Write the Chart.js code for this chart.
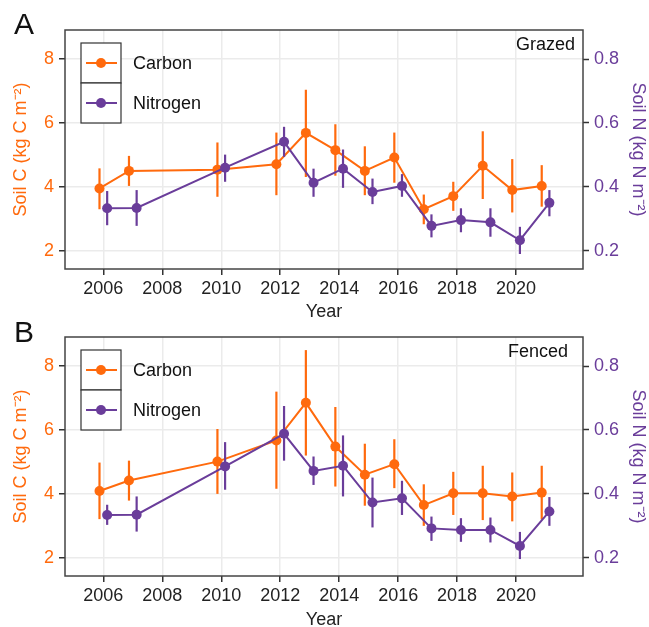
<!DOCTYPE html>
<html>
<head>
<meta charset="utf-8">
<script src="https://cdn.jsdelivr.net/npm/chart.js@4.4.1/dist/chart.umd.min.js"></script>
<style>
  body { margin: 0; background: #fff; }
  #wrap { position: relative; width: 649px; height: 627px; overflow: hidden; }
  canvas { position: absolute; left: 0; }
  #chartA { top: 0; }
  #chartB { top: 307px; }
</style>
</head>
<body>
<div id="wrap">
  <canvas id="chartA" width="649" height="322"></canvas>
  <canvas id="chartB" width="649" height="320"></canvas>
</div>
<script>
// sampling years
const years = [2006, 2007, 2010, 2012, 2013, 2014, 2015, 2016, 2017, 2018, 2019, 2020, 2021];

// tick labels
const yearTicks = [2006, 2008, 2010, 2012, 2014, 2016, 2018, 2020];
const carbonTicks = [2, 4, 6, 8];
const nitrogenTicks = [0.2, 0.4, 0.6, 0.8];

// Grazed: soil C (kg C m-2) with error bar ends
const grazedC = [3.95, 4.5, 4.54, 4.71, 5.69, 5.15, 4.5, 4.92, 3.3, 3.71, 4.66, 3.9, 4.03];
const grazedCLow = [3.3, 4.03, 3.69, 3.74, 4.31, 4.35, 3.74, 4.13, 2.83, 3.25, 3.62, 3.2, 3.38];
const grazedCHigh = [4.58, 4.97, 5.39, 5.7, 7.04, 5.96, 5.27, 5.7, 3.76, 4.16, 5.74, 4.87, 4.68];

// Grazed: soil N (kg N m-2)
const grazedN = [0.333, 0.334, 0.46, 0.541, 0.413, 0.457, 0.384, 0.403, 0.278, 0.296, 0.289, 0.233, 0.35];
const grazedNLow = [0.28, 0.278, 0.416, 0.494, 0.369, 0.397, 0.346, 0.369, 0.242, 0.258, 0.244, 0.19, 0.308];
const grazedNHigh = [0.387, 0.39, 0.501, 0.588, 0.457, 0.517, 0.426, 0.44, 0.314, 0.333, 0.333, 0.275, 0.39];

// Fenced: soil C
const fencedC = [4.09, 4.42, 5.01, 5.67, 6.85, 5.48, 4.6, 4.93, 3.65, 4.02, 4.02, 3.92, 4.04];
const fencedCLow = [3.21, 3.79, 4.0, 4.16, 5.2, 4.23, 3.63, 4.18, 3.0, 3.34, 3.18, 3.14, 3.2];
const fencedCHigh = [4.98, 5.04, 6.03, 7.2, 8.5, 6.72, 5.57, 5.71, 4.3, 4.69, 4.88, 4.67, 4.88];

// Fenced: soil N
const fencedN = [0.334, 0.335, 0.486, 0.588, 0.472, 0.488, 0.373, 0.386, 0.292, 0.287, 0.287, 0.237, 0.345];
const fencedNLow = [0.303, 0.282, 0.413, 0.504, 0.428, 0.392, 0.295, 0.334, 0.253, 0.25, 0.248, 0.196, 0.3];
const fencedNHigh = [0.366, 0.392, 0.562, 0.675, 0.517, 0.583, 0.451, 0.441, 0.329, 0.324, 0.326, 0.281, 0.39];

const ORANGE = "#FF6A0D";
const PURPLE = "#6A3D9A";
const DODGE = 0.13;

Chart.defaults.font.family = "'Liberation Sans', Arial, sans-serif";
Chart.defaults.font.size = 18;
Chart.defaults.color = "#222";

// vertical error bars drawn through the dataset's own scales
const errorBars = {
    id: "errorBars",
    beforeDatasetDraw(chart, args) {
        const ds = chart.data.datasets[args.index];
        const yScale = chart.scales[args.meta.yAxisID];
        const ctx = chart.ctx;
        ctx.save();
        ctx.strokeStyle = ds.borderColor;
        ctx.lineWidth = 2.2;
        args.meta.data.forEach((pt, i) => {
            ctx.beginPath();
            ctx.moveTo(pt.x, yScale.getPixelForValue(ds.errLow[i]));
            ctx.lineTo(pt.x, yScale.getPixelForValue(ds.errHigh[i]));
            ctx.stroke();
        });
        ctx.restore();
    }
};

// panel border, legend boxes, panel letter and treatment label
const decorations = {
    id: "decorations",
    afterDraw(chart, args, opts) {
        const ctx = chart.ctx;
        const a = chart.chartArea;
        ctx.save();
        ctx.strokeStyle = "#444";
        ctx.lineWidth = 1.5;
        ctx.strokeRect(a.left, a.top, a.right - a.left, a.bottom - a.top);

        // legend
        const lx = 81, ly = 43, kw = 40, kh = 40;
        chart.data.datasets.slice().sort((p, q) => p.legendRank - q.legendRank).forEach((ds, i) => {
            const top = ly + i * kh;
            ctx.fillStyle = "#fff";
            ctx.fillRect(lx, top, kw, kh);
            ctx.strokeStyle = "#333";
            ctx.lineWidth = 1.2;
            ctx.strokeRect(lx, top, kw, kh);
            const cy = top + kh / 2;
            ctx.strokeStyle = ds.borderColor;
            ctx.lineWidth = 2;
            ctx.beginPath();
            ctx.moveTo(lx + 5, cy);
            ctx.lineTo(lx + kw - 4, cy);
            ctx.stroke();
            ctx.fillStyle = ds.borderColor;
            ctx.beginPath();
            ctx.arc(lx + kw / 2, cy, 5, 0, Math.PI * 2);
            ctx.fill();
            ctx.fillStyle = "#111";
            ctx.font = "18px 'Liberation Sans', Arial, sans-serif";
            ctx.textAlign = "left";
            ctx.textBaseline = "middle";
            ctx.fillText(ds.label, lx + kw + 12, cy + 1);
        });

        ctx.fillStyle = "#111";
        ctx.font = "18px 'Liberation Sans', Arial, sans-serif";
        ctx.textAlign = "right";
        ctx.textBaseline = "middle";
        ctx.fillText(opts.label, opts.labelX, 45);

        ctx.font = "30px 'Liberation Sans', Arial, sans-serif";
        ctx.textAlign = "center";
        ctx.fillText(opts.letter, 24, opts.letterY);
        ctx.restore();
    }
};

function makeChart(id, carbon, cLow, cHigh, nitrogen, nLow, nHigh, info) {
    const ctx = document.getElementById(id).getContext("2d");
    return new Chart(ctx, {
        type: "line",
        data: {
            datasets: [
                {
                    label: "Nitrogen",
                    legendRank: 1,
                    order: 0,
                    yAxisID: "y2",
                    data: years.map((yr, i) => ({ x: yr + DODGE, y: nitrogen[i] })),
                    errLow: nLow,
                    errHigh: nHigh,
                    borderColor: PURPLE,
                    backgroundColor: PURPLE,
                    borderWidth: 2,
                    pointRadius: 5,
                    pointBorderWidth: 0,
                    tension: 0
                },
                {
                    label: "Carbon",
                    legendRank: 0,
                    order: 1,
                    yAxisID: "y",
                    data: years.map((yr, i) => ({ x: yr - DODGE, y: carbon[i] })),
                    errLow: cLow,
                    errHigh: cHigh,
                    borderColor: ORANGE,
                    backgroundColor: ORANGE,
                    borderWidth: 2,
                    pointRadius: 5,
                    pointBorderWidth: 0,
                    tension: 0
                }
            ]
        },
        options: {
            responsive: false,
            animation: false,
            devicePixelRatio: 1,
            layout: { padding: { top: 30, left: 0, right: 0, bottom: 0 } },
            plugins: {
                legend: { display: false },
                tooltip: { enabled: false },
                decorations: info
            },
            scales: {
                x: {
                    type: "linear",
                    min: 2004.7,
                    max: 2022.27,
                    afterBuildTicks: s => { s.ticks = yearTicks.map(v => ({ value: v })); },
                    afterFit: s => { s.height = info.xHeight; },
                    grid: { color: "#EBEBEB", lineWidth: 1.5, tickColor: "#333", tickLength: 6, tickWidth: 1.5 },
                    border: { display: false },
                    ticks: { color: "#222", padding: 3, maxRotation: 0, callback: v => String(v) },
                    title: { display: true, text: "Year", color: "#222", padding: { top: 0, bottom: info.titlePad } }
                },
                y: {
                    position: "left",
                    min: 1.43,
                    max: 8.91,
                    afterBuildTicks: s => { s.ticks = carbonTicks.map(v => ({ value: v })); },
                    afterFit: s => { s.width = 65; },
                    grid: { color: "#EBEBEB", lineWidth: 1.5, tickColor: "#333", tickLength: 6, tickWidth: 1.5 },
                    border: { display: false },
                    ticks: { color: ORANGE, padding: 5 },
                    title: { display: true, text: "Soil C (kg C m⁻²)", color: ORANGE, padding: { top: 10, bottom: 0 } }
                },
                y2: {
                    position: "right",
                    min: 0.143,
                    max: 0.891,
                    afterBuildTicks: s => { s.ticks = nitrogenTicks.map(v => ({ value: v })); },
                    afterFit: s => { s.width = 66; },
                    grid: { drawOnChartArea: false, tickColor: "#333", tickLength: 6, tickWidth: 1.5 },
                    border: { display: false },
                    ticks: { color: PURPLE, padding: 5, callback: v => v.toFixed(1) },
                    title: { display: true, text: "Soil N (kg N m⁻²)", color: PURPLE, padding: { top: 0, bottom: 0 } }
                }
            }
        },
        plugins: [errorBars, decorations]
    });
}

makeChart("chartA", grazedC, grazedCLow, grazedCHigh, grazedN, grazedNLow, grazedNHigh,
    { label: "Grazed", labelX: 575, letter: "A", letterY: 26, xHeight: 53, titlePad: -1 });
makeChart("chartB", fencedC, fencedCLow, fencedCHigh, fencedN, fencedNLow, fencedNHigh,
    { label: "Fenced", labelX: 568, letter: "B", letterY: 27, xHeight: 51, titlePad: -4 });
</script>
</body>
</html>
